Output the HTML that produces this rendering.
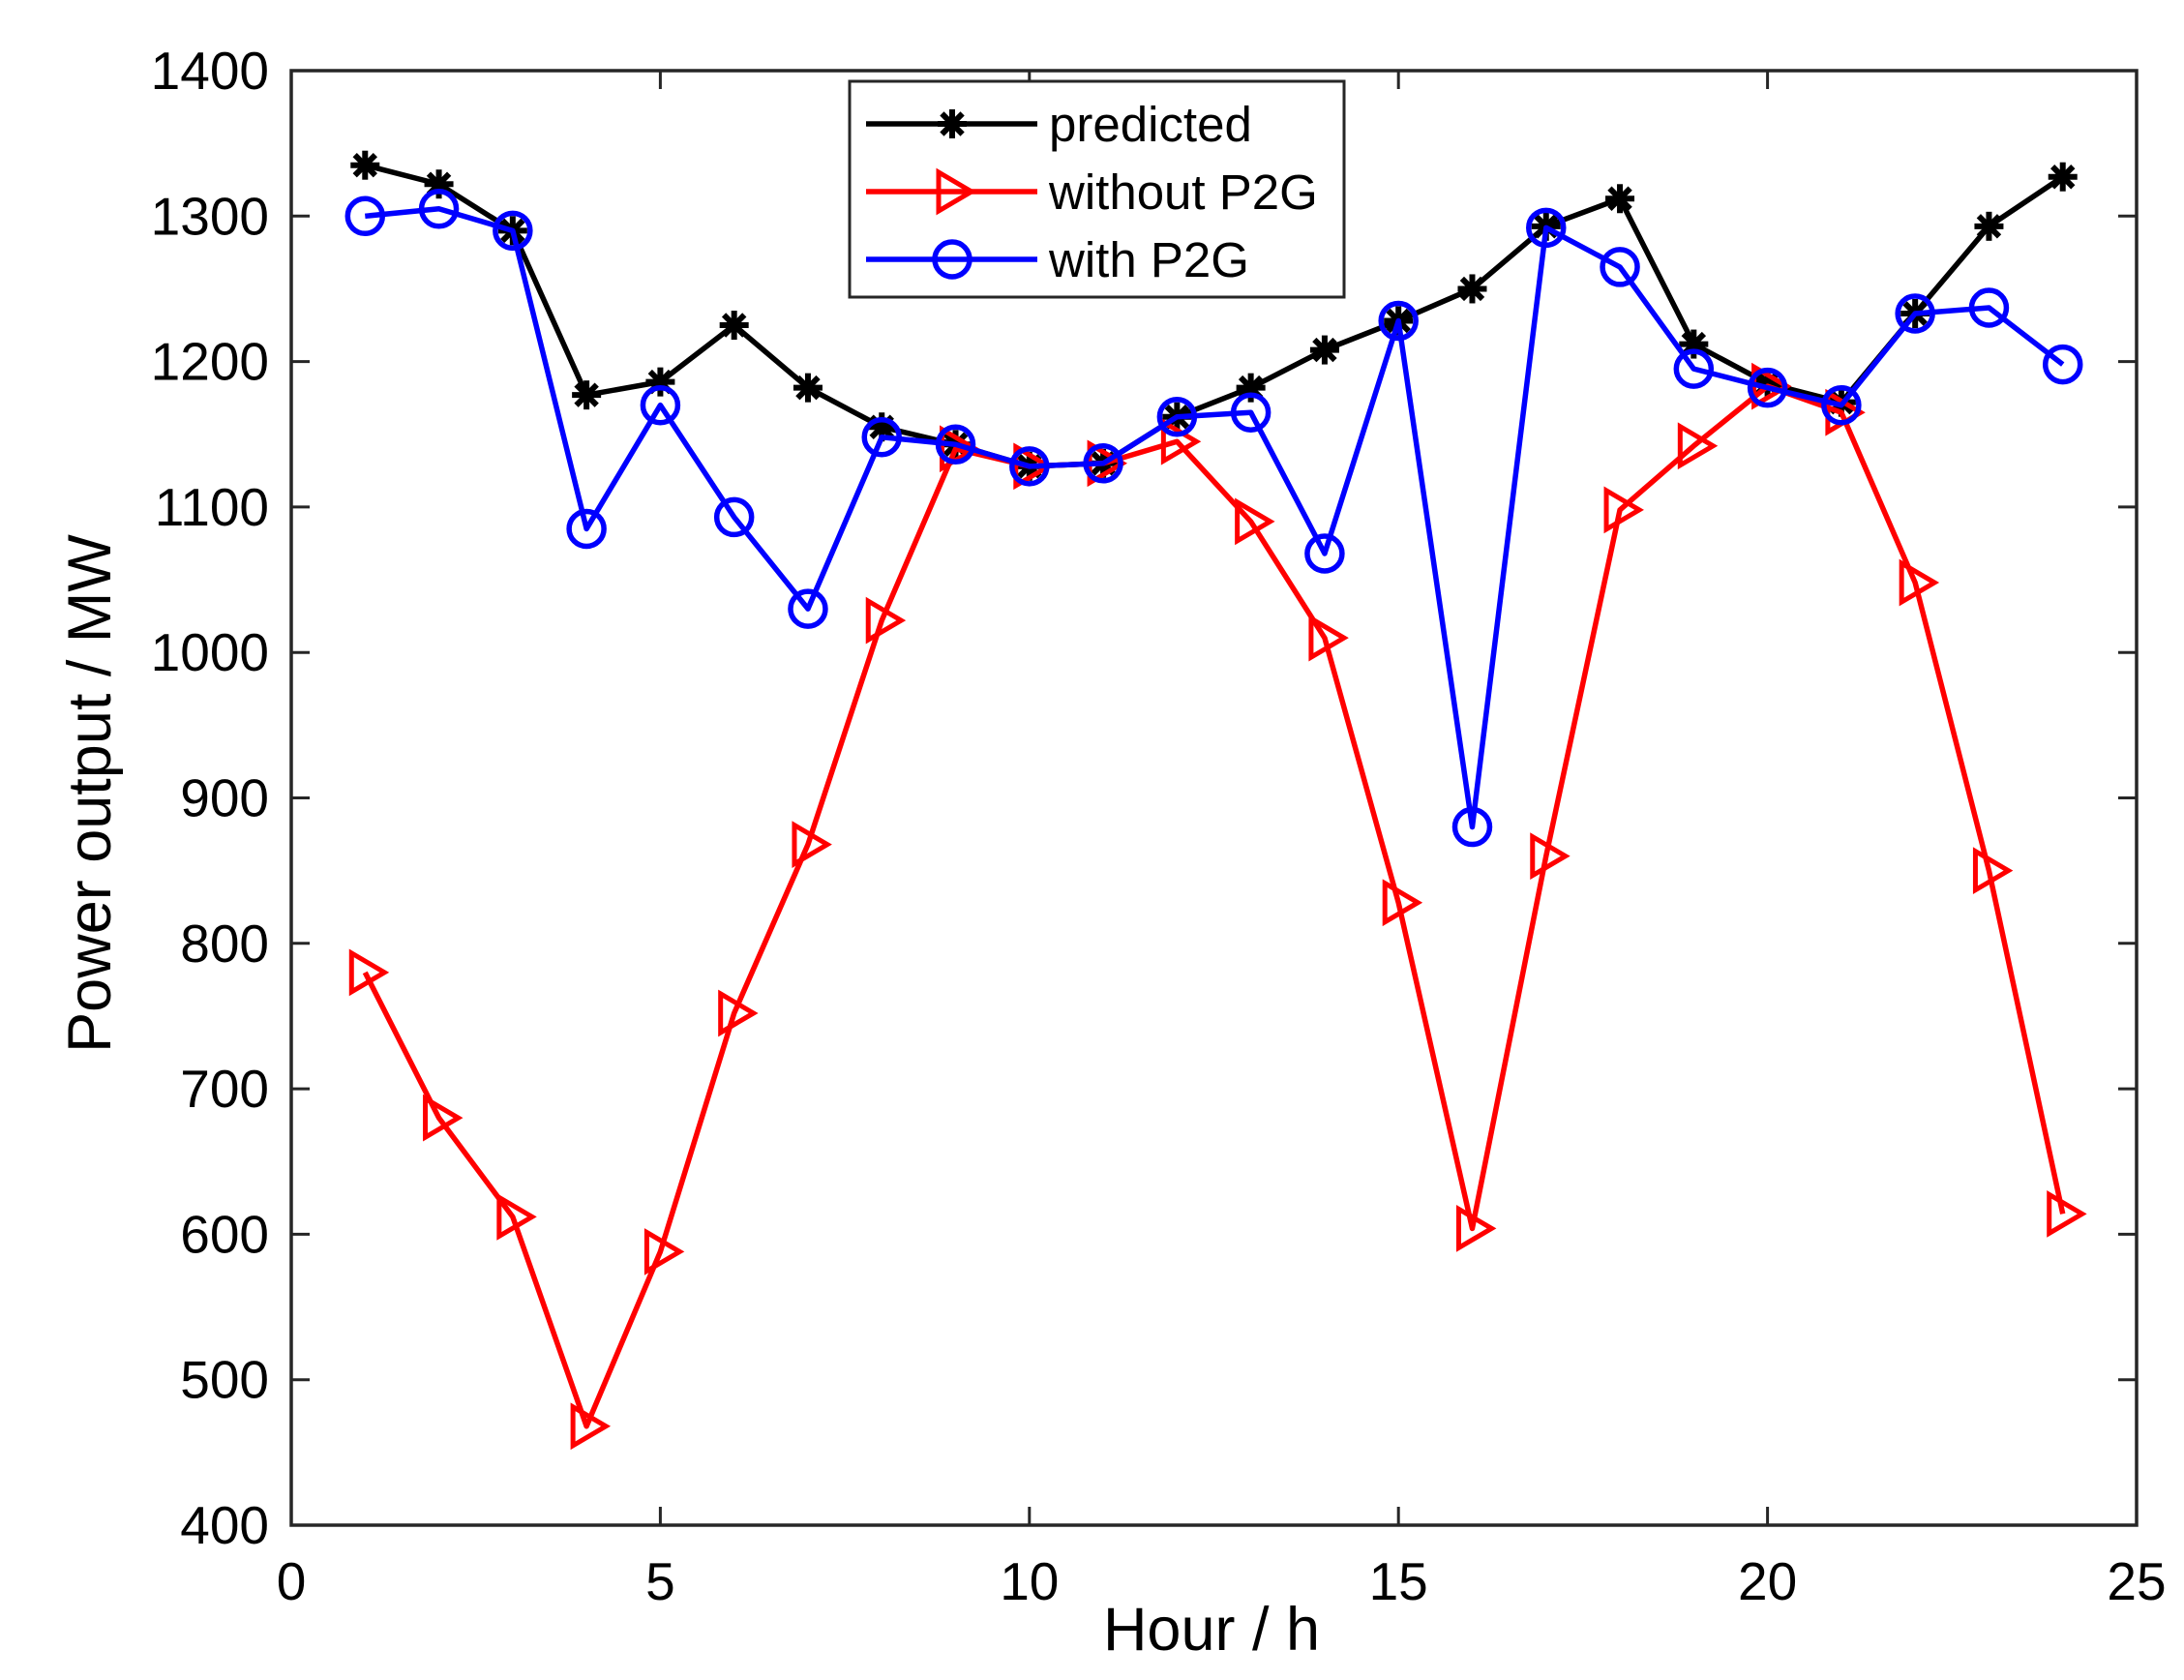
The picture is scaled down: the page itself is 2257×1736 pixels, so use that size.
<!DOCTYPE html>
<html><head><meta charset="utf-8"><style>body{margin:0;background:#fff}svg{display:block}</style></head>
<body>
<svg id="s" width="2257" height="1736" xmlns="http://www.w3.org/2000/svg" font-family="Liberation Sans, Arial, sans-serif"></svg>
<script>
const s=document.getElementById('s');
const L=301,R=2208,T=73,B=1576;
const X=v=>L+(R-L)*v/25, Y=v=>B-(B-T)*(v-400)/1000;
let h='<rect width="2257" height="1736" fill="#fff"/>';
for(let i=0;i<=5;i++){const x=X(i*5);h+=`<line x1="${x}" y1="${B}" x2="${x}" y2="${B-19}" stroke="#262626" stroke-width="3"/><line x1="${x}" y1="${T}" x2="${x}" y2="${T+19}" stroke="#262626" stroke-width="3"/>`;
h+=`<text x="${x}" y="${B+77}" font-size="55" text-anchor="middle">${i*5}</text>`;}
for(let v=400;v<=1400;v+=100){const y=Y(v);h+=`<line x1="${L}" y1="${y}" x2="${L+19}" y2="${y}" stroke="#262626" stroke-width="3"/><line x1="${R}" y1="${y}" x2="${R-19}" y2="${y}" stroke="#262626" stroke-width="3"/>`;
h+=`<text x="${L-23}" y="${y+19}" font-size="55" text-anchor="end">${v}</text>`;}
h+=`<rect x="${L}" y="${T}" width="${R-L}" height="${B-T}" fill="none" stroke="#262626" stroke-width="3.5"/>`;
h+=`<text x="1252" y="1705" font-size="63" text-anchor="middle">Hour / h</text>`;
h+=`<text transform="translate(114,820) rotate(-90)" font-size="63" text-anchor="middle">Power output / MW</text>`;
const P=[1335,1322,1290,1177,1186,1225,1182,1155,1143,1128,1130,1162,1182,1208,1228,1250,1293,1312,1212,1185,1172,1233,1293,1327];
const W=[780,680,612,468,588,752,868,1022,1140,1128,1130,1145,1090,1010,828,604,860,1098,1142,1183,1165,1048,850,614];
const G=[1300,1305,1290,1085,1170,1093,1030,1148,1143,1128,1130,1162,1165,1068,1228,880,1292,1265,1195,1182,1170,1233,1237,1198];
const star=(x,y)=>{let r=15,o='';for(let a=0;a<4;a++){const t=a*Math.PI/4;o+=`<line x1="${x-r*Math.cos(t)}" y1="${y-r*Math.sin(t)}" x2="${x+r*Math.cos(t)}" y2="${y+r*Math.sin(t)}" stroke="#000" stroke-width="6"/>`;}return o;};
const tri=(x,y,c)=>`<polygon points="${x-14},${y-20} ${x+20},${y} ${x-14},${y+20}" fill="none" stroke="${c}" stroke-width="5"/>`;
const circ=(x,y,c)=>`<circle cx="${x}" cy="${y}" r="18" fill="none" stroke="${c}" stroke-width="5.5"/>`;
function series(d,c,m){let pts=d.map((v,i)=>`${X(i+1)},${Y(v)}`).join(' ');let o=`<polyline points="${pts}" fill="none" stroke="${c}" stroke-width="5.5" stroke-linejoin="round"/>`;d.forEach((v,i)=>o+=m(X(i+1),Y(v),c));return o;}
h+=series(P,'#000',star);
h+=series(W,'#f00',tri);
h+=series(G,'#00f',circ);
h+=`<rect x="878" y="84" width="511" height="223" fill="#fff" stroke="#262626" stroke-width="3"/>`;
const ly=[128,198,268];
h+=`<line x1="895" y1="${ly[0]}" x2="1072" y2="${ly[0]}" stroke="#000" stroke-width="5.5"/>`+star(984,ly[0]);
h+=`<line x1="895" y1="${ly[1]}" x2="1072" y2="${ly[1]}" stroke="#f00" stroke-width="5.5"/>`+tri(984,ly[1],'#f00');
h+=`<line x1="895" y1="${ly[2]}" x2="1072" y2="${ly[2]}" stroke="#00f" stroke-width="5.5"/>`+circ(984,ly[2],'#00f');
['predicted','without P2G','with P2G'].forEach((t,i)=>h+=`<text x="1084" y="${ly[i]+18}" font-size="51">${t}</text>`);
s.innerHTML=h;
</script>
</body></html>
